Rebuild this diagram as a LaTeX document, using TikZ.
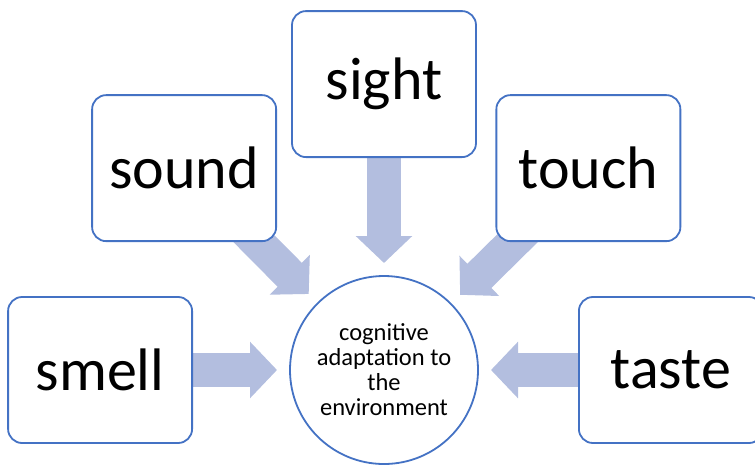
\documentclass[tikz,border=0pt]{standalone}
\usepackage{fontspec}
\setmainfont{Carlito}
\usetikzlibrary{positioning,arrows.meta,backgrounds}

\definecolor{rimblue}{HTML}{4472C4}
\definecolor{flowfill}{HTML}{B3BEDF}

\tikzset{
    sense/.style={draw=rimblue, line width=1.8pt, fill=white, rounded corners=14pt,
        minimum width=184pt, minimum height=146pt, font=\fontsize{60}{72}\selectfont},
    hub/.style={draw=rimblue, line width=1.8pt, fill=white, circle, outer sep=0pt,
        minimum size=188pt, inner sep=0pt, align=center, font=\fontsize{24.5}{25}\selectfont},
    flow/.style={draw=flowfill, line width=34pt, -{Triangle[width=55pt,length=27pt]},
        shorten <=-20pt, shorten >=13pt}
}

\begin{document}
\begin{tikzpicture}[x=1pt, y=-1pt]
        \useasboundingbox (0,0) rectangle (755,464);
        \clip (0,0) rectangle (755,464);

        \node[hub] (core) at (384,370) {cognitive\\adaptation to\\the\\environment};
        \node[sense, left=97pt of core] (smell) {smell};
        \node[sense, right=100pt of core] (taste) {taste};
        \node[sense, above=118pt of core] (sight) {sight};
        \node[sense, above left=61.5pt and 40.5pt of core] (sound) {sound};
        \node[sense, above right=61.5pt and 45pt of core] (touch) {touch};

        \begin{scope}[on background layer]
            \draw[flow] (smell) -- (core);
            \draw[flow] (taste) -- (core);
            \draw[flow] (sight) -- (core);
            \draw[flow] (sound) -- (core);
            \draw[flow] (touch) -- (core);
        \end{scope}
    \end{tikzpicture}
\end{document}
